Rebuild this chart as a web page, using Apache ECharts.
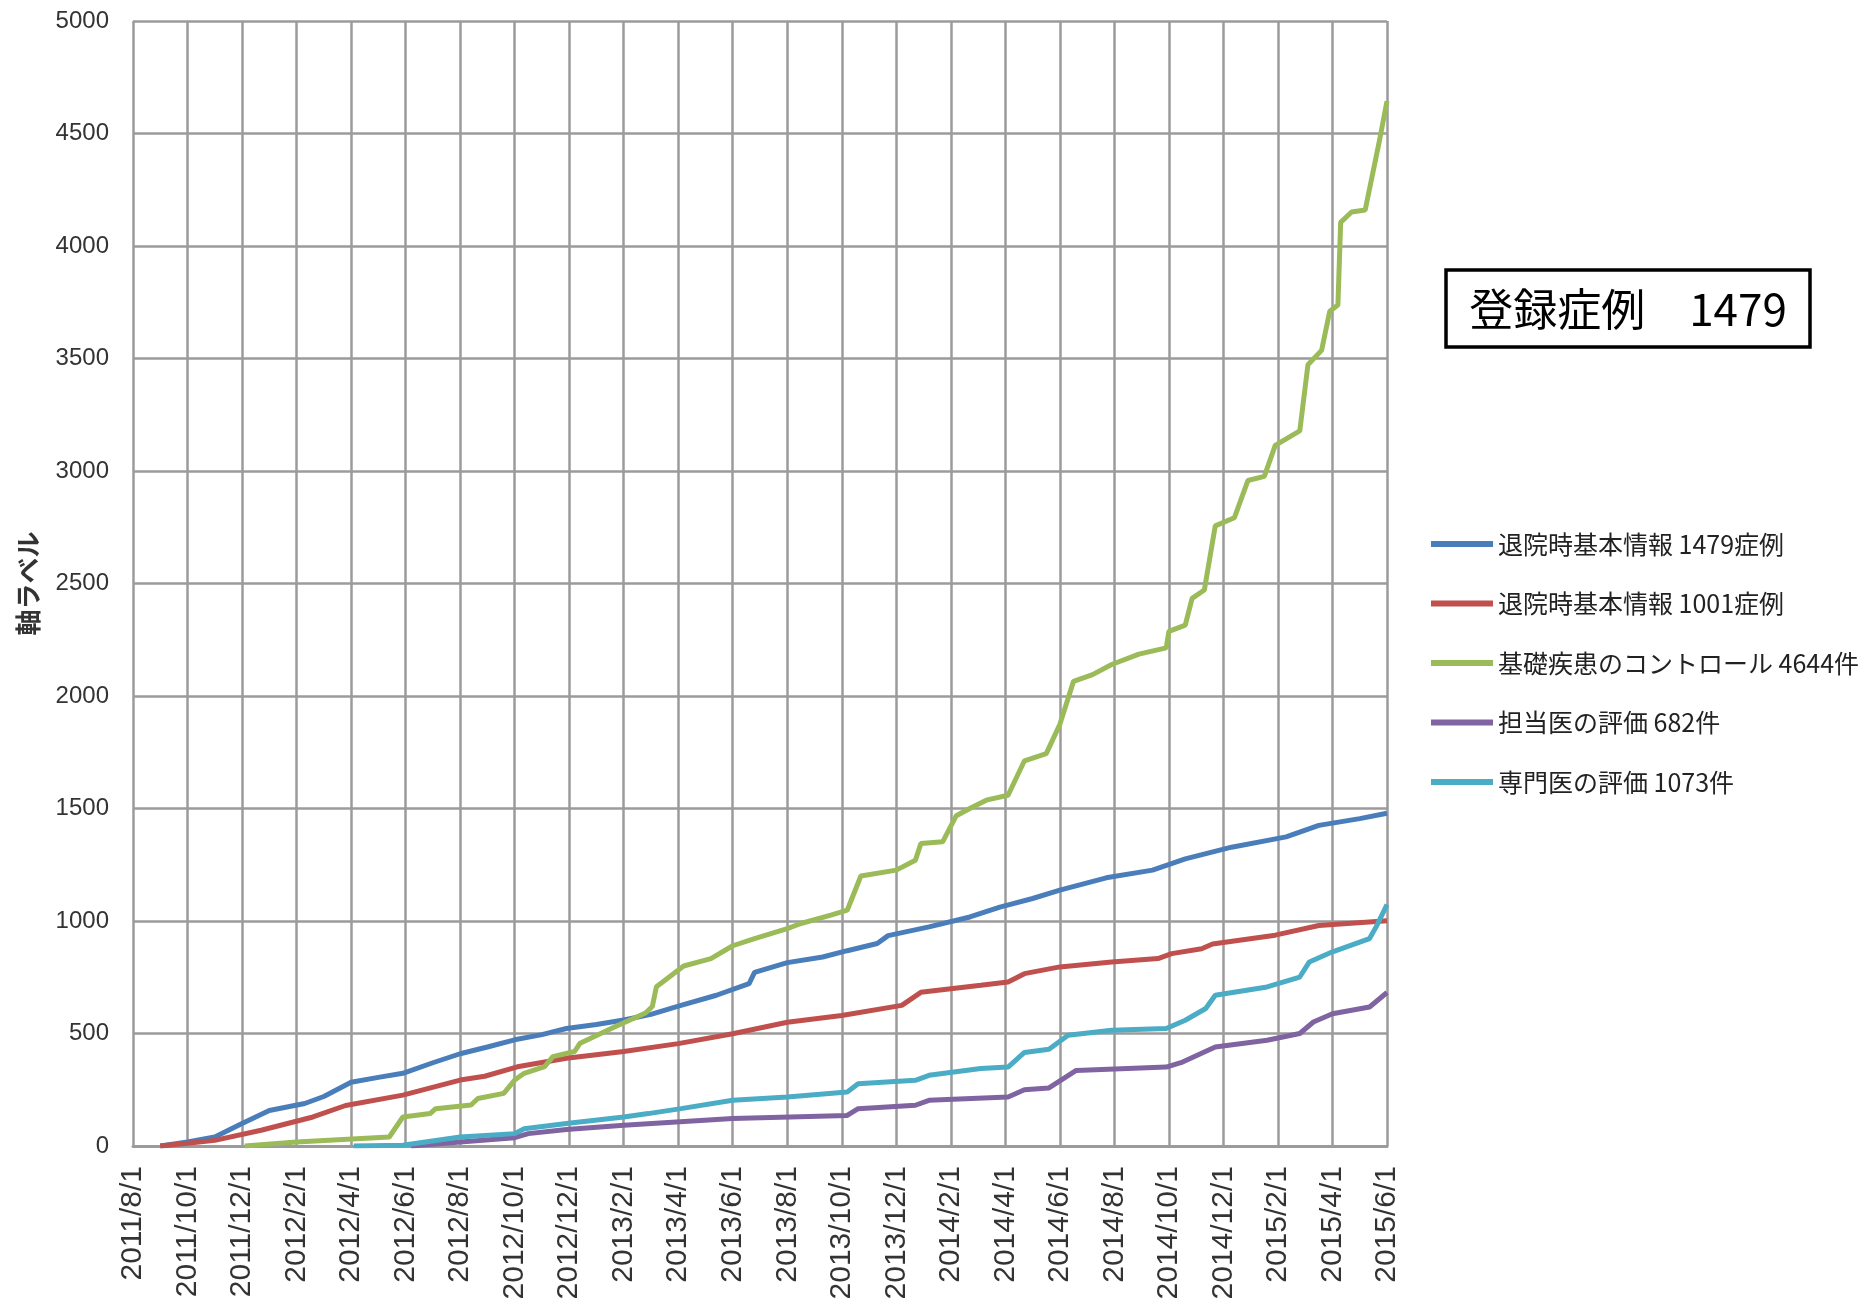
<!DOCTYPE html>
<html lang="ja">
<head>
<meta charset="utf-8">
<title>登録症例</title>
<script src="https://cdn.jsdelivr.net/npm/echarts@6/dist/echarts.min.js"></script>
<style>
  html, body { margin: 0; padding: 0; background: #fff; }
  #chart { width: 1868px; height: 1313px; }
</style>
</head>
<body>
<div id="chart"></div>
<script>
// x = months after 2011/8/1
const tickLabels = ['2011/8/1', '2011/10/1', '2011/12/1', '2012/2/1', '2012/4/1', '2012/6/1',
  '2012/8/1', '2012/10/1', '2012/12/1', '2013/2/1', '2013/4/1', '2013/6/1',
  '2013/8/1', '2013/10/1', '2013/12/1', '2014/2/1', '2014/4/1', '2014/6/1',
  '2014/8/1', '2014/10/1', '2014/12/1', '2015/2/1', '2015/4/1', '2015/6/1'];

const seriesNames = ['退院時基本情報 1479症例', '退院時基本情報 1001症例', '基礎疾患のコントロール 4644件',
  '担当医の評価 682件', '専門医の評価 1073件'];

const blueData = [[1, 0], [2, 18], [3, 40], [4, 100], [5, 158], [6.3, 189], [7, 220], [8, 283], [9, 305],
  [9.9, 323], [11, 370], [12, 410], [13, 440], [14, 472], [15, 495], [15.9, 522], [17, 540], [18, 560],
  [19, 585], [20.1, 625], [21.4, 670], [22.6, 722], [22.8, 772], [24, 815], [25.3, 840], [26.2, 868],
  [27.3, 900], [27.7, 935], [29.2, 974], [30.7, 1018], [31.8, 1062], [33, 1100], [34, 1137],
  [35.7, 1192], [37.4, 1226], [38.6, 1276], [40.3, 1328], [42.3, 1374], [43.5, 1425], [45, 1455],
  [46, 1479]];

const redData = [[1, 0], [2, 12], [3, 25], [4.7, 70], [6.6, 129], [7.8, 180], [9.9, 226], [12, 293],
  [12.9, 310], [14.1, 352], [15.9, 390], [18, 420], [20, 455], [22, 499], [24, 550], [26, 580],
  [28.2, 625], [28.9, 683], [31.1, 714], [32.1, 729], [32.7, 766], [34, 796], [35.9, 818],
  [37.6, 833], [38.1, 855], [39.2, 877], [39.6, 898], [41.9, 937], [43.5, 980], [46, 1001]];

const greenData = [[4.1, 0], [6, 18], [9.4, 40], [9.9, 129], [10.9, 144], [11.1, 166], [12.4, 182],
  [12.65, 211], [13.6, 234], [14, 293], [14.35, 323], [15.1, 353], [15.4, 397], [16.2, 420],
  [16.4, 457], [17.7, 531], [18.8, 591], [19.05, 620], [19.2, 708], [20.2, 800], [21.2, 833],
  [22, 890], [22.8, 922], [24, 966], [24.5, 989], [25.6, 1026], [26.2, 1048], [26.7, 1200],
  [28, 1226], [28.7, 1270], [28.9, 1344], [29.7, 1352], [30.2, 1468], [30.8, 1507], [31.3, 1537],
  [32.1, 1559], [32.7, 1712], [33.5, 1744], [34, 1874], [34.5, 2065], [35.2, 2095], [35.9, 2140],
  [36.9, 2186], [37.9, 2214], [38, 2287], [38.6, 2315], [38.85, 2434], [39.3, 2471], [39.7, 2756],
  [40.4, 2792], [40.9, 2958], [41.5, 2976], [41.9, 3114], [42.8, 3178], [43.1, 3472], [43.6, 3536],
  [43.9, 3710], [44.2, 3738], [44.3, 4105], [44.7, 4151], [45.2, 4160], [45.7, 4454], [46, 4644]];

const purpleData = [[10.2, 0], [12, 18], [14, 37], [14.5, 55], [15.9, 73], [18, 92], [22, 122],
  [26.2, 136], [26.6, 166], [28.7, 181], [29.2, 203], [32.1, 218], [32.7, 250], [33.6, 258],
  [34.6, 336], [37.9, 351], [38.5, 373], [39.7, 440], [41.6, 470], [42.8, 500], [43.3, 551],
  [44, 588], [45.36, 618], [46, 682]];

const cyanData = [[8.1, 0], [9.9, 3], [12, 40], [14, 55], [14.35, 77], [15.9, 100], [18, 129],
  [18.9, 144], [20.1, 166], [22, 203], [24, 218], [26.2, 240], [26.6, 277], [28.7, 292],
  [29.2, 314], [31.1, 344], [32.1, 351], [32.7, 416], [33.6, 430], [34.3, 492], [35.9, 514],
  [37.9, 522], [38.6, 559], [39.35, 611], [39.7, 670], [41.6, 707], [42.8, 751], [43.15, 818],
  [44, 863], [45.36, 922], [45.6, 974], [46, 1073]];

const colors = ['#4a7ebb', '#c0504d', '#9bbb59', '#8064a2', '#4bacc6'];
const allData = [blueData, redData, greenData, purpleData, cyanData];

const myChart = echarts.init(document.getElementById('chart'));

const gridColor = '#9b9b9b';

myChart.setOption({
  animation: false,
  color: colors,
  grid: {
    left: 133,
    right: 481,
    top: 21,
    bottom: 167,
    outerBoundsMode: 'none'
  },
  xAxis: {
    type: 'value',
    min: 0,
    max: 46,
    interval: 2,
    axisLine: { show: true, lineStyle: { color: gridColor, width: 3 } },
    axisTick: { show: false },
    splitLine: { show: true, lineStyle: { color: gridColor, width: 2.5 } },
    axisLabel: {
      rotate: 90,
      margin: 20,
      fontSize: 30,
      color: '#333',
      fontFamily: 'Liberation Sans',
      formatter: function (v) {
        return tickLabels[Math.round(v / 2)];
      }
    }
  },
  yAxis: {
    type: 'value',
    min: 0,
    max: 5000,
    interval: 500,
    name: '軸ラベル',
    nameLocation: 'middle',
    nameRotate: 90,
    nameGap: 92,
    nameTextStyle: {
      fontSize: 26,
      fontWeight: 'bold',
      color: '#333',
      fontFamily: 'Noto Sans CJK JP'
    },
    axisLine: { show: false },
    axisTick: { show: false },
    splitLine: { show: true, lineStyle: { color: gridColor, width: 2.5 } },
    axisLabel: {
      margin: 24,
      fontSize: 24,
      color: '#333',
      fontFamily: 'Liberation Sans',
      formatter: function (v) {
        return String(v);
      }
    }
  },
  legend: {
    orient: 'vertical',
    left: 1426,
    top: 524,
    icon: 'rect',
    itemWidth: 62,
    itemHeight: 6,
    itemGap: 29.5,
    data: seriesNames,
    textStyle: {
      fontSize: 25,
      lineHeight: 30,
      color: '#222',
      fontFamily: 'Noto Sans CJK JP'
    }
  },
  graphic: [
    {
      type: 'rect',
      shape: { x: 1446, y: 270, width: 364, height: 77 },
      style: { fill: '#fff', stroke: '#000', lineWidth: 3.5 }
    },
    {
      type: 'text',
      x: 1628,
      y: 309,
      style: {
        text: '登録症例　1479',
        fontSize: 44,
        fontFamily: 'Noto Sans CJK JP',
        fill: '#000',
        align: 'center',
        verticalAlign: 'middle'
      }
    }
  ],
  series: seriesNames.map(function (name, i) {
    return {
      name: name,
      type: 'line',
      data: allData[i],
      showSymbol: false,
      smooth: false,
      lineStyle: { width: 5, color: colors[i] },
      itemStyle: { color: colors[i] }
    };
  })
});
</script>
</body>
</html>
